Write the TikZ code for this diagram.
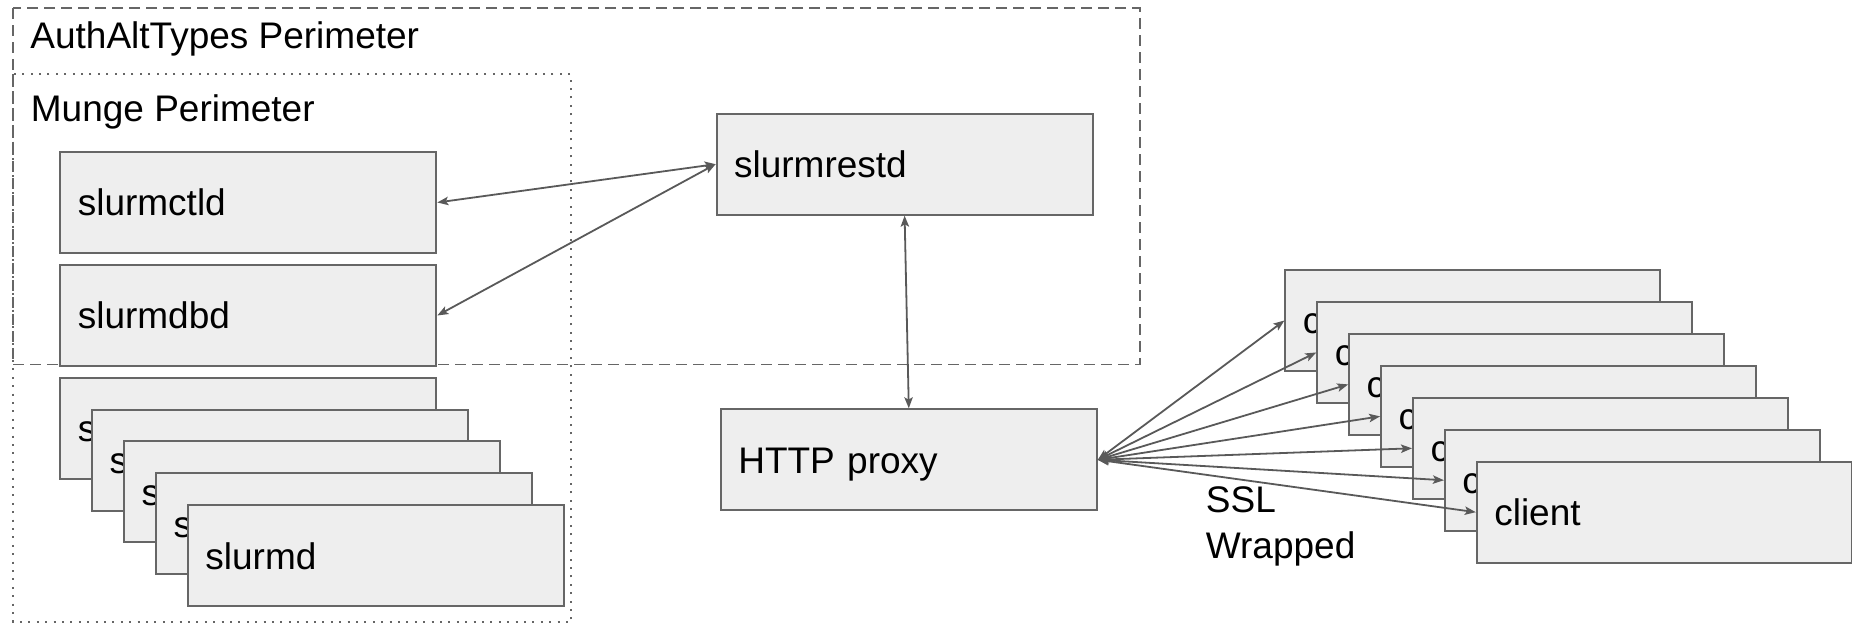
\documentclass[tikz,border=0pt]{standalone}
\usepackage{fontspec}
\setmainfont{Liberation Sans}
\usetikzlibrary{arrows.meta}
\definecolor{boxfill}{HTML}{EEEEEE}
\definecolor{boxline}{HTML}{666666}
\definecolor{arrowc}{HTML}{595959}
\definecolor{perim}{HTML}{666666}
\begin{document}
\begin{tikzpicture}[x=0.5pt,y=-0.5pt,
  every node/.style={font=\fontsize{18.5}{21.65}\selectfont},
  box/.style={draw=boxline, fill=boxfill, line width=1pt, rectangle, anchor=north west,
    minimum height=50.5pt, text width=170.5pt, inner xsep=8.75pt, inner ysep=0pt,
    align=left, text height=13.5pt, text depth=0pt},
  clientbox/.style={box, text width=170pt},
  conn/.style={draw=arrowc, line width=0.9pt, <->, >={Stealth[length=5.5pt,width=4.2pt,inset=1.2pt]}},
  authper/.style={draw=perim, line width=0.9pt, dash pattern=on 5.5pt off 3pt},
  mungeper/.style={draw=perim, line width=1pt, dash pattern=on 1pt off 3.2pt},
  lbl/.style={anchor=base west, inner sep=0pt}
]
\useasboundingbox (0,0) rectangle (1852,624);

% perimeters
\draw[authper] (12.6,8.3) rectangle (1139.6,364.5);
\draw[mungeper] (13.4,74.5) rectangle (571.4,622.3);
\node[lbl] (authlbl) at (30,48.3) {AuthAltTypes Perimeter};
\node[lbl] (mungelbl) at (30.5,121.7) {Munge Perimeter};

% left boxes
\node[box] (ctld) at (59.3,151) {slurmctld};
\node[box] (dbd) at (59.3,264) {slurmdbd};
\foreach \i in {0,...,4} {
  \node[box] (slurmd\i) at ({59.3+31.9*\i},{376.7+31.9*\i}) {slurmd};
}

% middle
\node[box] (rest) at (715.6,112.7) {slurmrestd};
\node[box] (proxy) at (719.8,408.3) {HTTP proxy};

% clients
\foreach \i in {0,...,6} {
  \node[clientbox] (client\i) at ({1284.4+31.9*\i},{269+31.95*\i}) {client};
}

\node[lbl, align=left, font=\fontsize{18.5}{22.85}\selectfont] (ssl) at (1205.5,558.4) {SSL\\Wrapped};

% connectors
\draw[conn] (ctld.east) -- (rest.west);
\draw[conn] (dbd.east) -- (rest.west);
\draw[conn] (rest.south) -- (proxy.north);
\foreach \i in {0,...,6} {
  \draw[conn] (proxy.east) -- (client\i.west);
}
\end{tikzpicture}
\end{document}
